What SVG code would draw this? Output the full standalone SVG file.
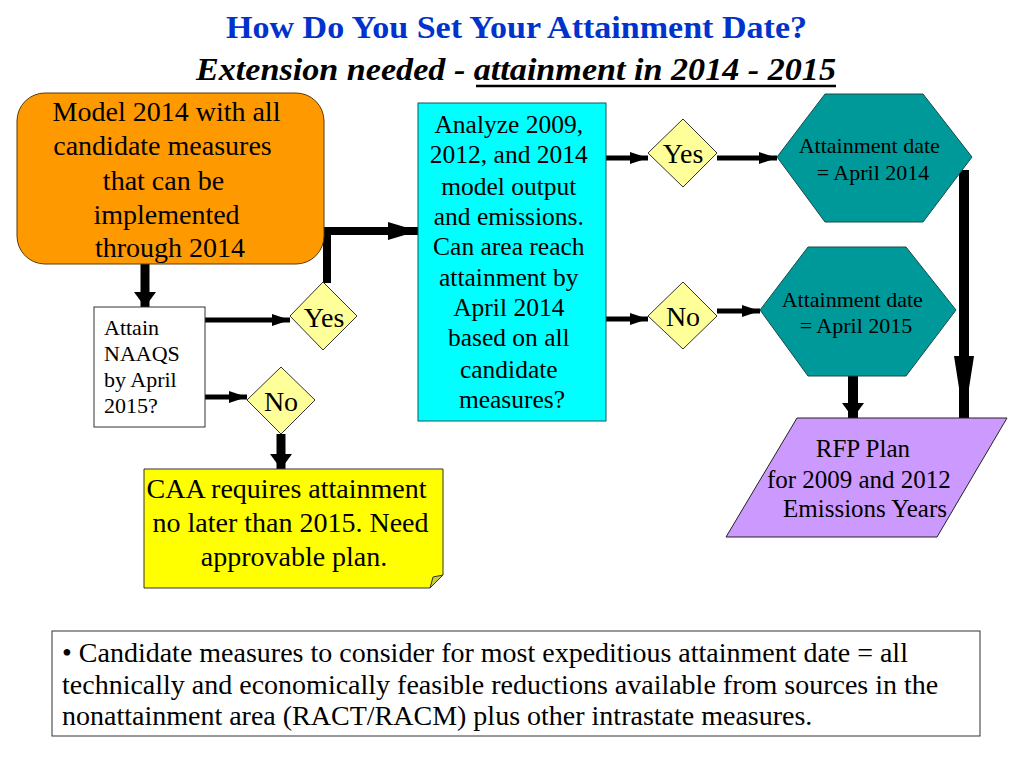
<svg xmlns="http://www.w3.org/2000/svg" width="1024" height="768" viewBox="0 0 1024 768">
<style>
text{font-family:"Liberation Serif","Times New Roman",serif;fill:#000}
.title{font-size:32px;font-weight:bold;fill:#0033CC}
.sub{font-size:32px;font-weight:bold;font-style:italic}
.c{text-anchor:middle}
.dia{fill:#FFFF99;stroke:#333;stroke-width:1}
.dt{font-size:28px;text-anchor:middle}
.hex{fill:#009999;stroke:#1a4a4a;stroke-width:1}
.conn{fill:none;stroke:#000;stroke-linejoin:miter}
</style>
<defs>
<marker id="ahS" markerUnits="userSpaceOnUse" markerWidth="20" markerHeight="14" refX="18" refY="7" orient="auto"><path d="M0 1 L18 7 L0 13 Z" fill="#000"/></marker>
<marker id="ahM" markerUnits="userSpaceOnUse" markerWidth="32" markerHeight="20" refX="30" refY="10" orient="auto"><path d="M0 1 L30 10 L0 19 Z" fill="#000"/></marker>
<marker id="ahW" markerUnits="userSpaceOnUse" markerWidth="16" markerHeight="24" refX="15" refY="12" orient="auto"><path d="M0 1 L15 12 L0 23 Z" fill="#000"/></marker>
<marker id="ahL" markerUnits="userSpaceOnUse" markerWidth="66" markerHeight="24" refX="64" refY="12" orient="auto"><path d="M0 2 L64 12 L0 22 Z" fill="#000"/></marker>
</defs>
<rect width="1024" height="768" fill="#fff"/>
<g id="title">
<text class="title" x="226" y="38" textLength="581" lengthAdjust="spacingAndGlyphs">How Do You Set Your Attainment Date?</text>
<text class="sub" x="196" y="80" textLength="640" lengthAdjust="spacingAndGlyphs">Extension needed - attainment in 2014 - 2015</text>
<line x1="476" y1="86" x2="836" y2="86" stroke="#000" stroke-width="2.5"/>
</g>
<g id="connectors">
<path class="conn" stroke-width="9" d="M145 264 V307" marker-end="url(#ahW)"/>
<path class="conn" stroke-width="5" d="M205 320 H290" marker-end="url(#ahS)"/>
<path class="conn" stroke-width="5" d="M205 397 H247" marker-end="url(#ahS)"/>
<path class="conn" stroke-width="9" d="M281 434 V469" marker-end="url(#ahW)"/>
<path class="conn" stroke-width="8" d="M327 283 V231 H418" marker-end="url(#ahM)"/>
<path class="conn" stroke-width="5" d="M606 158 H648" marker-end="url(#ahS)"/>
<path class="conn" stroke-width="5" d="M717 158 H777" marker-end="url(#ahS)"/>
<path class="conn" stroke-width="5" d="M606 319 H648" marker-end="url(#ahS)"/>
<path class="conn" stroke-width="5" d="M717 311 H760" marker-end="url(#ahS)"/>
<path class="conn" stroke-width="10" d="M964 170 V420" marker-end="url(#ahL)"/>
<path class="conn" stroke-width="10" d="M853 376 V418" marker-end="url(#ahW)"/>
</g>
<g id="model2014">
<rect x="17" y="93" width="307" height="171" rx="28" fill="#FF9900" stroke="#5a3a00" stroke-width="1"/>
<text class="c" font-size="28">
<tspan x="170" y="121">Model 2014 with all</tspan>
<tspan x="166" y="155">candidate measures</tspan>
<tspan x="167" y="190">that can be</tspan>
<tspan x="170" y="224">implemented</tspan>
<tspan x="170" y="257">through 2014</tspan>
</text>
</g>
<g id="attain">
<rect x="94" y="307" width="111" height="120" fill="#fff" stroke="#333" stroke-width="1"/>
<text font-size="22">
<tspan x="104" y="335">Attain</tspan>
<tspan x="104" y="361">NAAQS</tspan>
<tspan x="104" y="387">by April</tspan>
<tspan x="104" y="413">2015?</tspan>
</text>
</g>
<g id="yes1">
<polygon class="dia" points="323,282 357,316 323,350 290,316"/>
<text class="dt" x="324" y="327">Yes</text>
</g>
<g id="no1">
<polygon class="dia" points="281,367 315,400 281,434 247,400"/>
<text class="dt" x="281" y="411">No</text>
</g>
<g id="caa">
<path d="M144 469 H443 V575 L430 588 H144 Z" fill="#FFFF00" stroke="#333" stroke-width="1"/>
<path d="M443 575 L430 588 L433 577 Z" fill="#CCCC33" stroke="#333" stroke-width="1"/>
<text class="c" font-size="28">
<tspan x="290" y="498">CAA requires attainment</tspan>
<tspan x="294" y="532">no later than 2015.  Need</tspan>
<tspan x="294" y="566">approvable plan.</tspan>
</text>
</g>
<g id="analyze">
<rect x="418" y="103" width="188" height="318" fill="#00FFFF" stroke="#0b5a5a" stroke-width="1"/>
<text class="c" font-size="25.5">
<tspan x="512" y="133">Analyze 2009,</tspan>
<tspan x="512" y="163">2012, and 2014</tspan>
<tspan x="512" y="195">model output</tspan>
<tspan x="512" y="225">and emissions.</tspan>
<tspan x="512" y="255">Can area reach</tspan>
<tspan x="512" y="286">attainment by</tspan>
<tspan x="512" y="316">April 2014</tspan>
<tspan x="512" y="346">based on all</tspan>
<tspan x="512" y="378">candidate</tspan>
<tspan x="512" y="408">measures?</tspan>
</text>
</g>
<g id="yes2">
<polygon class="dia" points="683,119 717,153 683,187 648,153"/>
<text class="dt" x="683" y="163">Yes</text>
</g>
<g id="no2">
<polygon class="dia" points="683,282 717,316 683,349 648,316"/>
<text class="dt" x="683" y="326">No</text>
</g>
<g id="date2014">
<polygon class="hex" points="777,157 825,94 923,94 972,157 923,222 825,222"/>
<text class="c" font-size="22">
<tspan x="872" y="153">Attainment date</tspan>
<tspan x="873" y="180">=  April 2014</tspan>
</text>
</g>
<g id="date2015">
<polygon class="hex" points="760,310 808,247 906,247 956,310 906,376 808,376"/>
<text class="c" font-size="22">
<tspan x="855" y="307">Attainment date</tspan>
<tspan x="856" y="333">=  April 2015</tspan>
</text>
</g>
<g id="rfp">
<polygon points="797,418 1007,418 937,537 726,537" fill="#CC99FF" stroke="#222" stroke-width="1"/>
<text class="c" font-size="25">
<tspan x="866" y="457">RFP Plan</tspan>
<tspan x="862" y="488">for 2009 and 2012</tspan>
<tspan x="865" y="517">Emissions Years</tspan>
</text>
</g>
<g id="note">
<rect x="52" y="631" width="928" height="105" fill="#fff" stroke="#333" stroke-width="1"/>
<text font-size="28">
<tspan x="62" y="662">• Candidate measures to consider for most expeditious attainment date = all</tspan>
<tspan x="62" y="694">technically and economically feasible reductions available from sources in the</tspan>
<tspan x="62" y="725">nonattainment area (RACT/RACM) plus other intrastate measures.</tspan>
</text>
</g>
</svg>
